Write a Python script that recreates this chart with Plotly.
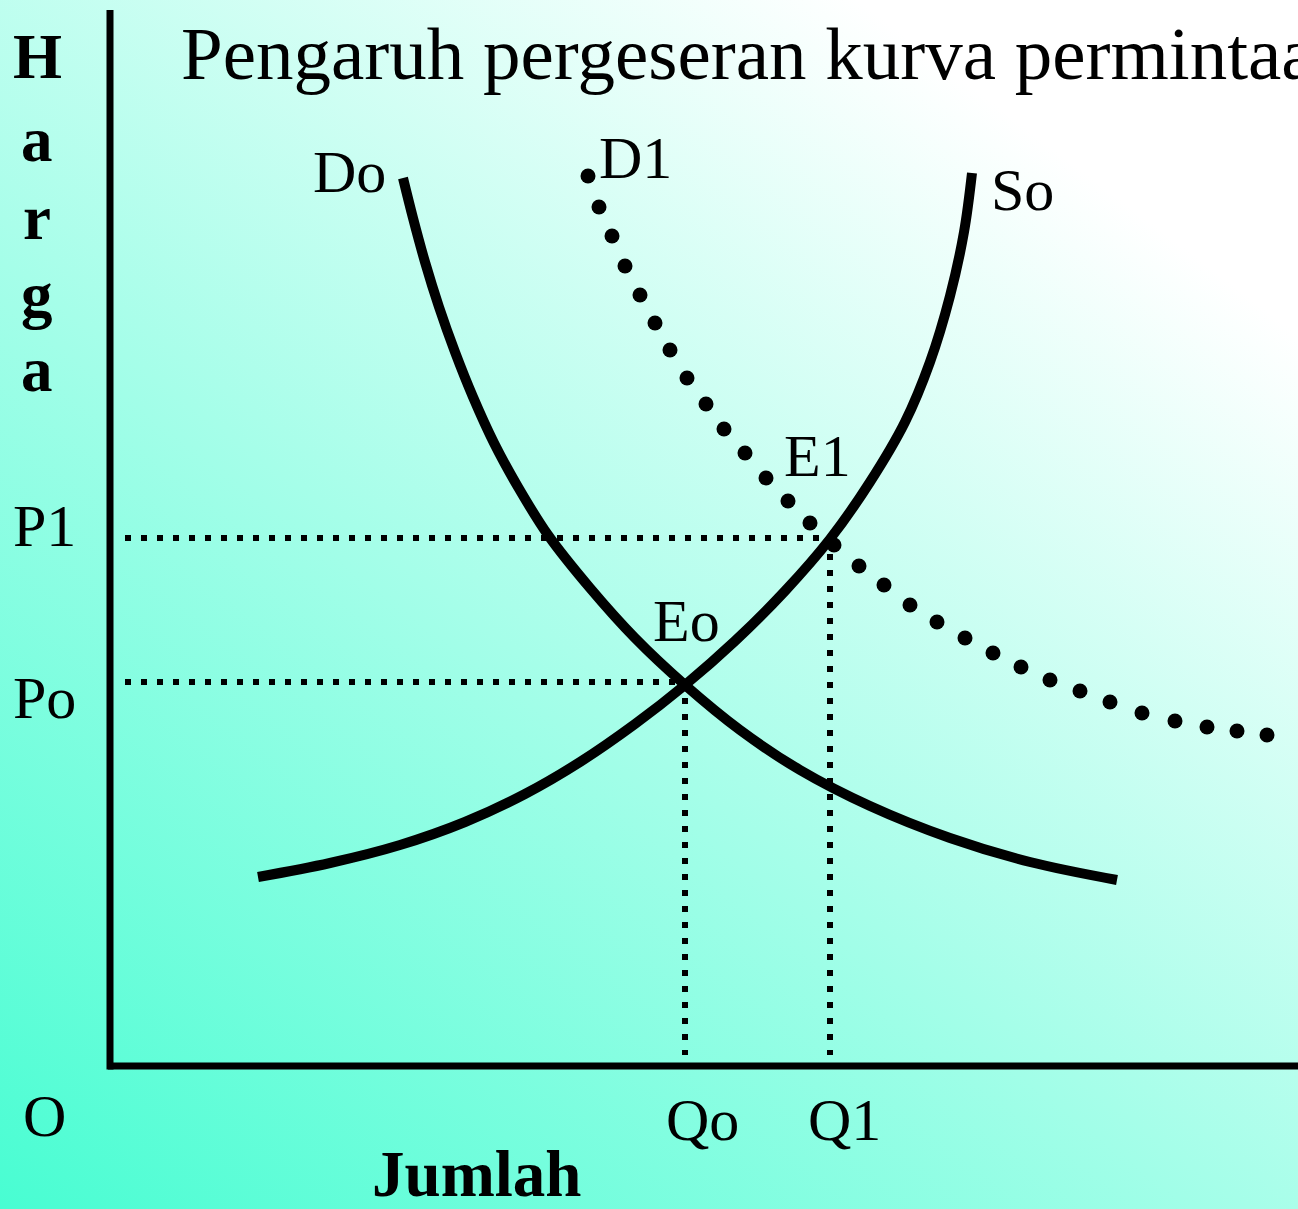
import base64
import plotly.graph_objects as go

# ---------------- data (economic units: quantity, price) ----------------
do_q = [2.93, 3.03, 3.15, 3.29, 3.45, 3.63, 3.84, 4.08, 4.38, 4.80, 5.25, 5.75, 6.30, 6.90, 7.60, 8.40, 9.20, 10.07]
do_p = [8.88, 8.48, 8.04, 7.59, 7.14, 6.69, 6.23, 5.79, 5.31, 4.78, 4.28, 3.81, 3.36, 2.96, 2.60, 2.28, 2.04, 1.86]

so_q = [1.48, 2.20, 2.90, 3.55, 4.15, 4.70, 5.25, 5.75, 6.25, 6.75, 7.20, 7.60, 7.95, 8.20, 8.40, 8.54, 8.62]
so_p = [1.89, 2.03, 2.21, 2.44, 2.72, 3.04, 3.42, 3.81, 4.25, 4.75, 5.27, 5.84, 6.44, 7.04, 7.70, 8.34, 8.93]

d1_q = [4.78, 4.89, 5.02, 5.15, 5.30, 5.45, 5.60, 5.77, 5.96, 6.14, 6.35, 6.56, 6.78, 7.00, 7.24,
        7.49, 7.74, 8.00, 8.27, 8.55, 8.83, 9.11, 9.40, 9.70, 10.00, 10.32, 10.65, 10.97, 11.27, 11.57]
d1_p = [8.90, 8.59, 8.30, 8.00, 7.71, 7.43, 7.16, 6.88, 6.62, 6.37, 6.13, 5.88, 5.65, 5.43, 5.21,
        5.00, 4.81, 4.61, 4.44, 4.28, 4.13, 3.99, 3.86, 3.75, 3.64, 3.53, 3.45, 3.39, 3.35, 3.31]

eq_q = [5.75, 7.20]   # Qo, Q1
eq_p = [3.84, 5.28]   # Po, P1
guide_start_q = 0.15
guide_end_p = 0.11

axis_top_p = 10.56
axis_right_q = 11.9

# ---------------- layout geometry ----------------
W, H = 1298, 1209
X0, Y0, S = 110, 1066, 100.0   # pixel position of origin and pixels per unit
x_range = [-X0 / S, (W - X0) / S]
y_range = [(Y0 - H) / S, Y0 / S]

FONT = "Liberation Serif, Times New Roman, serif"

fig = go.Figure()

# background gradient
svg = f'''<svg xmlns="http://www.w3.org/2000/svg" width="{W}" height="{H}" viewBox="0 0 {W} {H}" preserveAspectRatio="none">
<defs><linearGradient id="g" gradientUnits="userSpaceOnUse" x1="0" y1="{H}" x2="896" y2="29">
<stop offset="0" stop-color="#48fdd2"/><stop offset="1" stop-color="#ffffff"/></linearGradient></defs>
<rect x="0" y="0" width="{W}" height="{H}" fill="url(#g)"/></svg>'''
src = "data:image/svg+xml;base64," + base64.b64encode(svg.encode()).decode()
fig.add_layout_image(dict(source=src, xref="paper", yref="paper", x=0, y=1, sizex=1, sizey=1,
                          xanchor="left", yanchor="top", sizing="stretch", layer="below"))

# guide dotted lines
for q, p in zip(eq_q, eq_p):
    fig.add_trace(go.Scatter(x=[guide_start_q, q], y=[p, p], mode="lines",
                             line=dict(color="black", width=6, dash="6px,10px"), hoverinfo="skip"))
    fig.add_trace(go.Scatter(x=[q, q], y=[p, guide_end_p], mode="lines",
                             line=dict(color="black", width=6, dash="6px,10px"), hoverinfo="skip"))

# demand Do
fig.add_trace(go.Scatter(x=do_q, y=do_p, mode="lines",
                         line=dict(color="black", width=10, shape="spline", smoothing=1),
                         hoverinfo="skip"))
# supply So
fig.add_trace(go.Scatter(x=so_q, y=so_p, mode="lines",
                         line=dict(color="black", width=10, shape="spline", smoothing=1),
                         hoverinfo="skip"))
# demand D1 (dotted)
fig.add_trace(go.Scatter(x=d1_q, y=d1_p, mode="markers", marker=dict(color="black", size=15),
                         hoverinfo="skip"))

# axes
fig.add_shape(type="line", x0=0, x1=0, y0=-0.035, y1=axis_top_p, line=dict(color="black", width=7))
fig.add_shape(type="line", x0=-0.02, x1=axis_right_q, y0=0, y1=0, line=dict(color="black", width=7))


def ann(text, px, py, size=60, bold=False, xanchor="center"):
    if bold:
        text = f"<b>{text}</b>"
    fig.add_annotation(text=text, x=px / W, y=1 - py / H, xref="paper", yref="paper",
                       xanchor=xanchor, yanchor="middle", showarrow=False,
                       font=dict(family=FONT, size=size, color="black"))


ann("Pengaruh pergeseran kurva permintaan", 179, 54, size=75, xanchor="left")
for ch, py in zip(["H", "a", "r", "g", "a"], [57, 140, 218, 295, 370]):
    ann(ch, 37, py, size=63, bold=True)
ann("Do", 349, 172)
ann("D1", 635, 158)
ann("So", 1022, 190)
ann("E1", 818, 456)
ann("Eo", 686, 621)
ann("P1", 44, 526)
ann("Po", 45, 698)
ann("O", 45, 1116)
ann("Qo", 702, 1120)
ann("Q1", 844, 1120)
ann("Jumlah", 477, 1174, size=65, bold=True)

fig.update_layout(width=W, height=H, autosize=False, margin=dict(l=0, r=0, t=0, b=0),
                  paper_bgcolor="#a8fde6", plot_bgcolor="rgba(0,0,0,0)", showlegend=False,
                  xaxis=dict(range=x_range, visible=False, fixedrange=True),
                  yaxis=dict(range=y_range, visible=False, fixedrange=True))

fig.write_html("out.html", config={"displayModeBar": False},
               post_script="document.body.style.margin='0';document.body.style.overflow='hidden';")
